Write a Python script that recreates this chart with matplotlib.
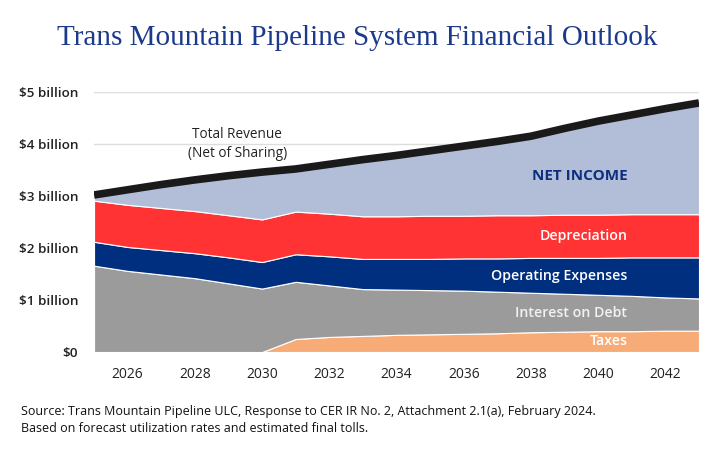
import numpy as np
import matplotlib
matplotlib.use("Agg")
import matplotlib.pyplot as plt

plt.rcParams['font.family'] = ['Open Sans', 'DejaVu Sans']

years = list(range(2025, 2044))

# component values, $ billions
taxes = [0, 0, 0, 0, 0, 0, 0.25, 0.29, 0.31, 0.33, 0.34, 0.35, 0.36, 0.38, 0.39, 0.40, 0.40, 0.41, 0.41]
interest = [1.66, 1.56, 1.49, 1.42, 1.32, 1.22, 1.10, 0.99, 0.90, 0.87, 0.85, 0.83, 0.80, 0.76, 0.73, 0.70, 0.68, 0.64, 0.62]
opex = [0.46, 0.46, 0.47, 0.48, 0.50, 0.51, 0.53, 0.56, 0.58, 0.59, 0.60, 0.62, 0.64, 0.67, 0.69, 0.71, 0.74, 0.77, 0.79]
depreciation = [0.79, 0.81, 0.81, 0.81, 0.81, 0.82, 0.82, 0.82, 0.82, 0.82, 0.83, 0.82, 0.83, 0.82, 0.83, 0.83, 0.83, 0.83, 0.83]
revenue = [3.02, 3.12, 3.22, 3.31, 3.39, 3.46, 3.52, 3.61, 3.70, 3.78, 3.87, 3.96, 4.05, 4.15, 4.30, 4.44, 4.56, 4.68, 4.79]

costs = np.array(taxes) + np.array(interest) + np.array(opex) + np.array(depreciation)
net_income = np.array(revenue) - costs

colors = ['#f7ac78', '#9b9b9b', '#002f80', '#ff3333', '#b2bed8']

yticks = [0, 1, 2, 3, 4, 5]
ytick_labels = ['$0', '$1 billion', '$2 billion', '$3 billion', '$4 billion', '$5 billion']
xticks = list(range(2026, 2043, 2))

fig = plt.figure(figsize=(7.14, 4.51), dpi=100)
ax = fig.add_axes([0.1317, 0.2195, 0.979 - 0.1317, 0.796 - 0.2195])

ax.stackplot(years, taxes, interest, opex, depreciation, net_income,
             colors=colors, edgecolor='white', linewidth=0.8, zorder=2)
ax.plot(years, revenue, color='#1a1a1a', lw=5.5, solid_capstyle='butt', zorder=3)

ax.set_xlim(2025, 2043)
ax.set_ylim(0, 5)
ax.set_yticks(yticks)
ax.set_yticklabels(ytick_labels)
ax.set_xticks(xticks)
ax.grid(axis='y', color='#dddddd', lw=1, zorder=0)
ax.set_axisbelow(True)
for s in ax.spines.values():
    s.set_visible(False)
ax.tick_params(length=0)
ax.tick_params(axis='y', pad=11.5, labelsize=9.7, labelcolor='#222222')
ax.tick_params(axis='x', pad=11, labelsize=10, labelcolor='#222222')
for lbl in ax.get_yticklabels():
    lbl.set_fontweight('semibold')

lx = 2040.87
ax.text(2029.26, 4.0, 'Total Revenue\n(Net of Sharing)', ha='center', va='center',
        fontsize=9.8, color='#222222', linespacing=1.3)
ax.text(lx, 3.38, 'NET INCOME', ha='right', va='center', fontsize=11,
        fontweight='bold', color='#0d2f80')
ax.text(lx, 2.23, 'Depreciation', ha='right', va='center', fontsize=10.2,
        fontweight='semibold', color='white')
ax.text(lx, 1.47, 'Operating Expenses', ha='right', va='center', fontsize=10.2,
        fontweight='semibold', color='white')
ax.text(lx, 0.75, 'Interest on Debt', ha='right', va='center', fontsize=10.2,
        fontweight='semibold', color='#f2f2f2')
ax.text(lx, 0.21, 'Taxes', ha='right', va='center', fontsize=10.2,
        fontweight='semibold', color='white')

fig.text(0.5, 0.915, 'Trans Mountain Pipeline System Financial Outlook', ha='center', va='center',
         fontsize=21, family='Liberation Serif', color='#1c3a8c')
fig.text(0.029, 0.069, 'Source: Trans Mountain Pipeline ULC, Response to CER IR No. 2, Attachment 2.1(a), February 2024.\n'
         'Based on forecast utilization rates and estimated final tolls.',
         ha='left', va='center', fontsize=9.0, color='#111111', linespacing=1.45)

fig.savefig('out.png', dpi=100)
